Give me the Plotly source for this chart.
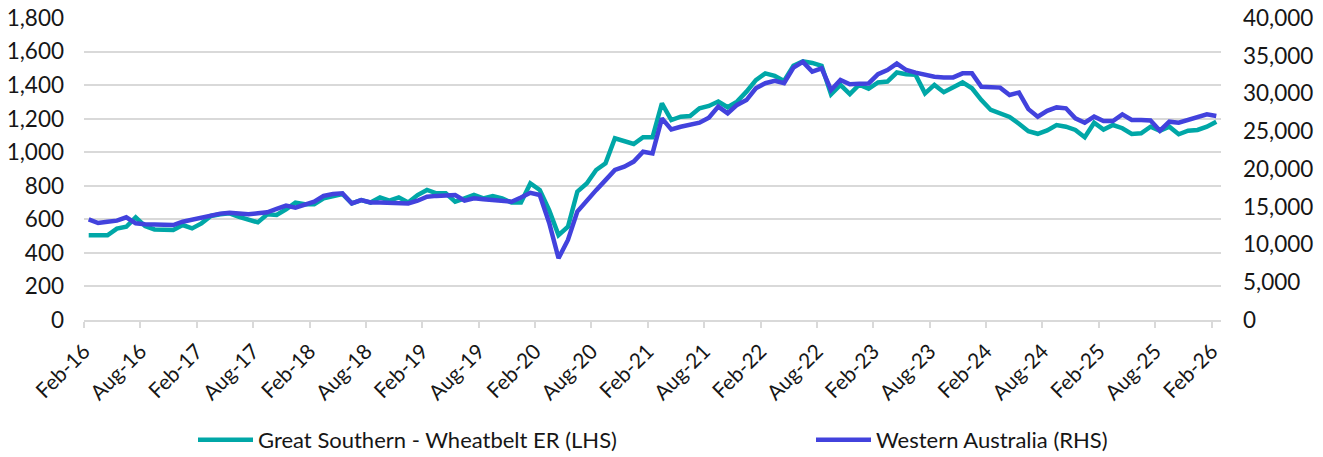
import plotly.graph_objects as go
import pandas as pd

# Monthly categories Feb-2016 .. Feb-2026
months = [d.strftime("%b-%y") for d in pd.date_range("2016-02-01", "2026-02-01", freq="MS")]

# Great Southern - Wheatbelt ER (LHS)
gs_wheatbelt = [
    505, 505, 505, 545, 556, 612, 560, 540, 536, 536,
    566, 546, 576, 620, 630, 636, 615, 595, 582, 630,
    626, 660, 700, 690, 690, 725, 735, 751, 695, 715,
    700, 731, 711, 731, 700, 745, 775, 755, 755, 705,
    725, 745, 725, 739, 725, 700, 700, 814, 775, 655,
    506, 556, 765, 814, 894, 934, 1083, 1063, 1049, 1089,
    1089, 1291, 1192, 1212, 1216, 1262, 1276, 1302, 1268, 1302,
    1361, 1430, 1470, 1455, 1425, 1515, 1542, 1532, 1515, 1345,
    1401, 1346, 1403, 1378, 1416, 1421, 1475, 1465, 1461, 1351,
    1401, 1358, 1390, 1416, 1381, 1311, 1252, 1230, 1210, 1170,
    1125, 1110, 1130, 1162, 1152, 1133, 1089, 1176, 1135, 1162,
    1143, 1109, 1113, 1152, 1128, 1152, 1107, 1128, 1133, 1152,
    1182,
]

# Western Australia (RHS)
western_australia = [
    13330, 12840, 13020, 13160, 13600, 12800, 12670, 12620, 12580, 12580,
    13020, 13290, 13600, 13960, 14090, 14220, 14180, 14000, 14130, 14270,
    14710, 15160, 14890, 15330, 15670, 16440, 16690, 16780, 15440, 15890,
    15560, 15560, 15560, 15490, 15440, 15800, 16330, 16440, 16560, 16560,
    15800, 16110, 16000, 15890, 15780, 15670, 16220, 16840, 16560, 12890,
    8180, 10600, 14360, 15890, 17200, 18530, 19870, 20310, 20980, 22290,
    22070, 26710, 25240, 25600, 25820, 26130, 26800, 28270, 27380, 28490,
    29130, 30690, 31360, 31670, 31360, 33440, 34180, 32890, 33330, 30470,
    31800, 31220, 31290, 31330, 32560, 33110, 33960, 33110, 32760, 32440,
    32220, 32130, 32130, 32670, 32670, 30890, 30760, 30780, 29800, 30130,
    27930, 26930, 27710, 28160, 28040, 26710, 26130, 26930, 26360, 26360,
    27240, 26490, 26490, 26440, 25070, 26270, 26130, 26490, 26930, 27240,
    27020,
]

tick_labels = months[::6]
x = list(range(len(months)))
tick_pos = [i - 0.5 for i in range(0, len(months), 6)]

FONT = "Lato"
TXT = "#161616"
TICK_SIZE = 22.5
XTICK_SIZE = 21
LEG_SIZE = 22
W, H = 1323, 457

fig = go.Figure()
fig.add_trace(go.Scatter(
    x=x, y=gs_wheatbelt, name="Great Southern - Wheatbelt ER (LHS)",
    mode="lines", line=dict(color="#00A7A7", width=4.5),
    text=months, hovertemplate="%{text}: %{y:,}<extra></extra>",
    legend="legend",
))
fig.add_trace(go.Scatter(
    x=x, y=western_australia, name="Western Australia (RHS)", yaxis="y2",
    mode="lines", line=dict(color="#4242DD", width=4.5),
    text=months, hovertemplate="%{text}: %{y:,}<extra></extra>",
    legend="legend2",
))

leg_common = dict(
    orientation="h", xref="container", yref="container",
    xanchor="left", yanchor="middle", y=17 / H,
    font=dict(family=FONT, size=LEG_SIZE, color=TXT),
    itemwidth=55, bgcolor="rgba(0,0,0,0)",
)

fig.update_layout(
    width=W, height=H,
    margin=dict(l=84, r=102, t=18, b=137, autoexpand=False),
    paper_bgcolor="white", plot_bgcolor="white",
    font=dict(family=FONT, size=TICK_SIZE, color=TXT),
    showlegend=True,
    legend=dict(leg_common, x=193 / W),
    legend2=dict(leg_common, x=811 / W),
    xaxis=dict(
        range=[-0.5, len(months) - 0.5], automargin=False,
        tickmode="array", tickvals=tick_pos, ticktext=tick_labels,
        tickangle=-45, ticks="outside", ticklen=6, tickcolor="#D9D9D9", tickwidth=1.5,
        showline=True, linecolor="#D9D9D9", linewidth=1.5,
        showgrid=False, zeroline=False, ticklabelstandoff=3,
        tickfont=dict(family=FONT, size=XTICK_SIZE, color=TXT),
    ),
    yaxis=dict(
        range=[0, 1800], dtick=200, tickformat=",", automargin=False,
        showgrid=True, gridcolor="#D9D9D9", gridwidth=1.5,
        zeroline=False, showline=False, ticks="",
        ticklabelstandoff=19, ticklabeloverflow="allow",
        tickfont=dict(family=FONT, size=TICK_SIZE, color=TXT),
    ),
    yaxis2=dict(
        range=[0, 40000], dtick=5000, tickformat=",", automargin=False,
        overlaying="y", side="right",
        showgrid=False, zeroline=False, showline=False, ticks="",
        ticklabelstandoff=21, ticklabeloverflow="allow",
        tickfont=dict(family=FONT, size=TICK_SIZE, color=TXT),
    ),
)

# remove the browser's default 8px body margin so the figure fills the window
fig.write_html(
    "out.html",
    config={"displayModeBar": False},
    post_script="document.body.style.margin='0';",
)
